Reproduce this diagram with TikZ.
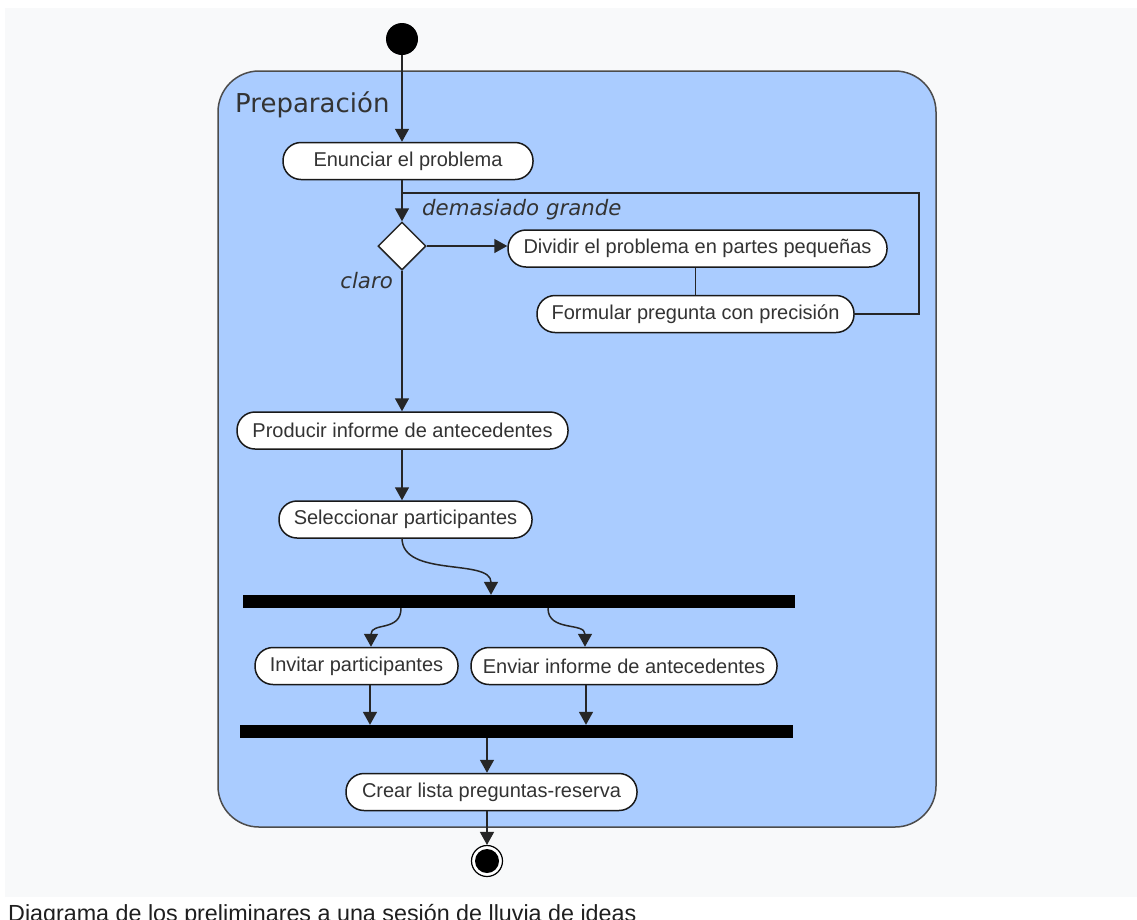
\documentclass[tikz,border=0pt]{standalone}
\usepackage{fontspec}
\usetikzlibrary{arrows.meta,shapes.geometric}
\newfontfamily\libsans{Liberation Sans}
\newfontfamily\dejasans{DejaVu Sans}
\newcommand\actfont{\libsans\fontsize{20}{22}\selectfont}
\definecolor{pagegray}{HTML}{F8F9FA}
\definecolor{swimblue}{RGB}{170,204,255}
\definecolor{acttext}{HTML}{333333}
\begin{document}
\begin{tikzpicture}[x=1pt,y=-1pt,
  act/.style={draw=black!90, line width=1.5pt, fill=white, rounded corners=18pt,
    minimum height=37pt, inner sep=0pt, font=\actfont, text=acttext},
  conn/.style={draw=black!85, line width=1.5pt},
  arr/.style={conn, -{Triangle[width=14pt,length=13pt]}},
  forkbar/.style={fill=black, draw=none, inner sep=0pt, minimum height=13pt},
  lbl/.style={inner sep=0pt, font=\dejasans\itshape\fontsize{21.3}{24}\selectfont, text=black!80}
]
\useasboundingbox (0,0) rectangle (1137,919);
\fill[white] (0,0) rectangle (1137,919);
\fill[pagegray] (5,8) rectangle (1137,897);

% container
\draw[fill=swimblue, draw=black!70, line width=1.5pt, rounded corners=41pt] (218,71) rectangle (936,827);
\node[anchor=base west, inner sep=0pt, font=\dejasans\fontsize{26}{30}\selectfont, text=black!80] (title) at (235,112) {Preparación};

% nodes
\node[circle, fill=black, minimum size=32pt, inner sep=0pt] (start) at (402,39) {};
\node[act, minimum width=250pt] (enun) at (408,161) {Enunciar el problema};
\node[diamond, draw=black!85, line width=1.5pt, fill=white, minimum width=48pt, minimum height=48pt, inner sep=0pt] (dec) at (402,246) {};
\node[act, minimum width=379pt] (divid) at (697.5,248.5) {Dividir el problema en partes pequeñas};
\node[act, minimum width=317pt] (formu) at (695.5,314) {Formular pregunta con precisión};
\node[act, minimum width=331pt] (produ) at (402.5,430.5) {Producir informe de antecedentes};
\node[act, minimum width=253pt] (selec) at (405.5,519.5) {Seleccionar participantes};
\node[forkbar, minimum width=552pt] (barA) at (518.5,601.5) {};
\node[act, minimum width=203pt] (invit) at (356.5,666) {Invitar participantes};
\node[act, minimum width=306pt] (envia) at (624,666) {Enviar informe de antecedentes};
\node[forkbar, minimum width=553pt] (barB) at (516.5,731.5) {};
\node[act, minimum width=291pt] (crear) at (491.5,792) {Crear lista preguntas-reserva};
\node[circle, draw=black, line width=1.2pt, fill=white, minimum size=31pt, inner sep=0pt] (fin) at (487,861) {};
\node[circle, fill=black, minimum size=24pt, inner sep=0pt] (finin) at (fin.center) {};

% labels
\node[lbl, anchor=base west] (lbig) at (422,215) {demasiado grande};
\node[lbl, anchor=base east] (lclaro) at (393,288) {claro};

% connectors
\coordinate (join) at (402,193);
\coordinate (loopc) at (919,193);
\draw[arr] (start) -- (start |- enun.north);
\draw[arr] (enun.south -| dec) -- (dec.north);
\draw[conn] (formu.east) -| (loopc) -- (join);
\draw[arr] (dec.east) -- (dec.east -| divid.west);
\draw[conn] (divid.south -| formu) -- (formu.north);
\draw[arr] (dec.south) -- (dec.south |- produ.north);
\draw[arr] (produ.south -| dec) -- (selec.north -| dec);
\coordinate (sA) at (402,538);
\coordinate (tA) at (491,595);
\draw[arr] (sA) .. controls (402,578) and (491,558) .. (barA.north -| tA);
\coordinate (sB) at (401,608);
\coordinate (tB) at (371,648);
\draw[arr] (barA.south -| sB) .. controls (401,632) and (371,622) .. (invit.north -| tB);
\coordinate (sC) at (548,608);
\coordinate (tC) at (585,648);
\draw[arr] (barA.south -| sC) .. controls (548,632) and (585,622) .. (envia.north -| tC);
\coordinate (xI) at (370,0);
\coordinate (xE) at (586,0);
\coordinate (xC) at (487,0);
\draw[arr] (invit.south -| xI) -- (barB.north -| xI);
\draw[arr] (envia.south -| xE) -- (barB.north -| xE);
\draw[arr] (barB.south -| xC) -- (crear.north -| xC);
\draw[arr] (crear.south -| xC) -- (fin.north);

% caption
\node[anchor=base west, inner sep=0pt, font=\libsans\fontsize{23.3}{26}\selectfont, text=black!88] (cap) at (8,921) {Diagrama de los preliminares a una sesión de lluvia de ideas};
\end{tikzpicture}
\end{document}
